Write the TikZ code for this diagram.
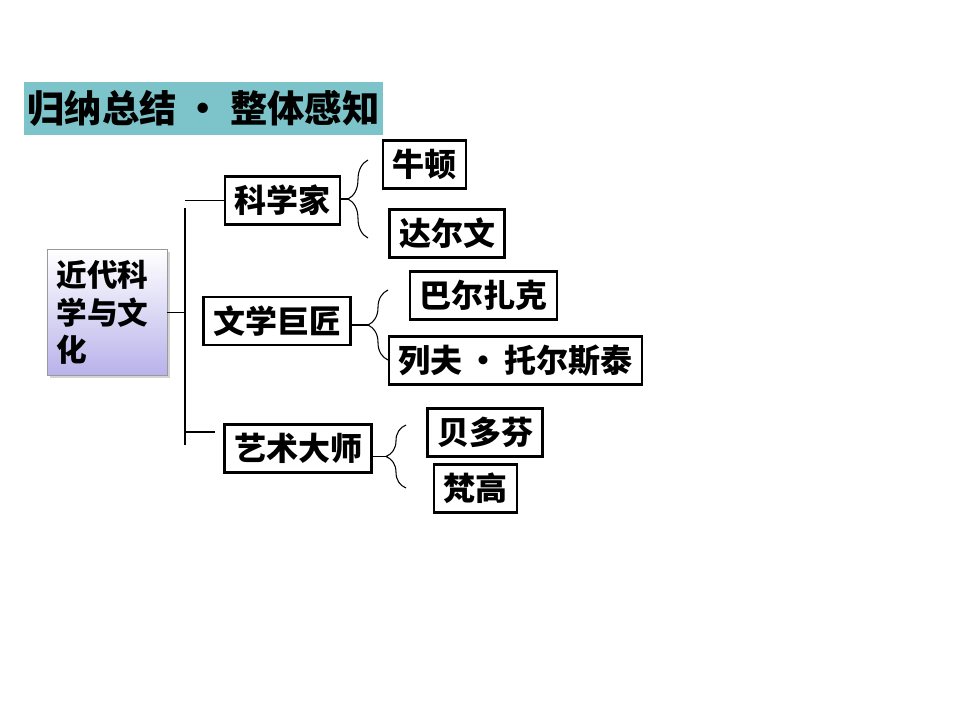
\documentclass[tikz,border=0pt]{standalone}
\usepackage{fontspec}
\setmainfont{Noto Sans CJK SC}
\usetikzlibrary{positioning,decorations.pathreplacing,shadows}

\definecolor{bannerteal}{RGB}{124,196,201}
\definecolor{rootlilac}{RGB}{184,178,234}

\tikzset{
  item/.style={draw, line width=1.9pt, minimum height=36pt, inner xsep=7pt,
    font=\fontsize{24}{26}\selectfont\bfseries},
  link/.style={line width=0.8pt},
  curly/.style={link, decorate, decoration={brace, amplitude=15pt}},
}

\begin{document}
\begin{tikzpicture}[x=0.75pt,y=-0.75pt]
  \useasboundingbox (0,0) rectangle (960,720);

  % heading
  \node[fill=bannerteal, minimum width=269pt, minimum height=40pt, inner sep=0pt,
    font=\fontsize{28}{30}\selectfont\bfseries] (banner) at (203.5,108.5)
    {归纳总结\hspace{6pt}•\hspace{6pt}整体感知};

  % root
  \node[draw=black!40, line width=0.6pt, top color=white, bottom color=rootlilac,
    drop shadow={shadow xshift=2pt, shadow yshift=-2pt, opacity=0.35},
    minimum width=90pt, minimum height=94pt, text width=76pt, align=left,
    font=\fontsize{23}{28}\selectfont\bfseries] (root) at (107,312.5) {近代科\\学与文\\化};

  % second level
  \node[item] (sci)  at (282.5,200.5) {科学家};
  \node[item] (lit)  at (277,321)     {文学巨匠};
  \node[item] (art)  at (298,448.5)   {艺术大师};

  % third level
  \node[item] (newton)  at (424.5,164.5) {牛顿};
  \node[item] (darwin)  at (447,233.5)   {达尔文};
  \node[item] (balzac)  at (483.5,295.5) {巴尔扎克};
  \node[item] (tolstoy) at (515.5,360.5) {列夫\hspace{4pt}•\hspace{4pt}托尔斯泰};
  \node[item] (beeth)   at (485,432.5)   {贝多芬};
  \node[item] (gogh)    at (475.5,488.5) {梵高};

  % trunk
  \coordinate (trunk top) at (185,208);
  \coordinate (trunk bot) at (185,445);
  \draw[link] (root.east) -- (root.east -| trunk top);
  \draw[link] (trunk top) -- (trunk bot);
  \draw[link] (sci.west -| trunk top) -- (sci.west);
  \draw[link] (185,432) -- (215,432);

  % braces
  \coordinate (b1 lo) at (368,238);
  \coordinate (b1 hi) at (368,160);
  \coordinate (b1 tip) at (348,199);
  \draw[curly] (b1 lo) -- (b1 hi);
  \draw[link] (sci.east |- b1 tip) -- (b1 tip);

  \coordinate (b2 lo) at (388,360);
  \coordinate (b2 hi) at (388,290);
  \coordinate (b2 tip) at (368,325);
  \draw[curly] (b2 lo) -- (b2 hi);
  \draw[link] (lit.east |- b2 tip) -- (b2 tip);

  \coordinate (b3 lo) at (406,488);
  \coordinate (b3 hi) at (406,425);
  \coordinate (b3 tip) at (386,456.5);
  \draw[curly] (b3 lo) -- (b3 hi);
  \draw[link] (art.east |- b3 tip) -- (b3 tip);
\end{tikzpicture}
\end{document}
